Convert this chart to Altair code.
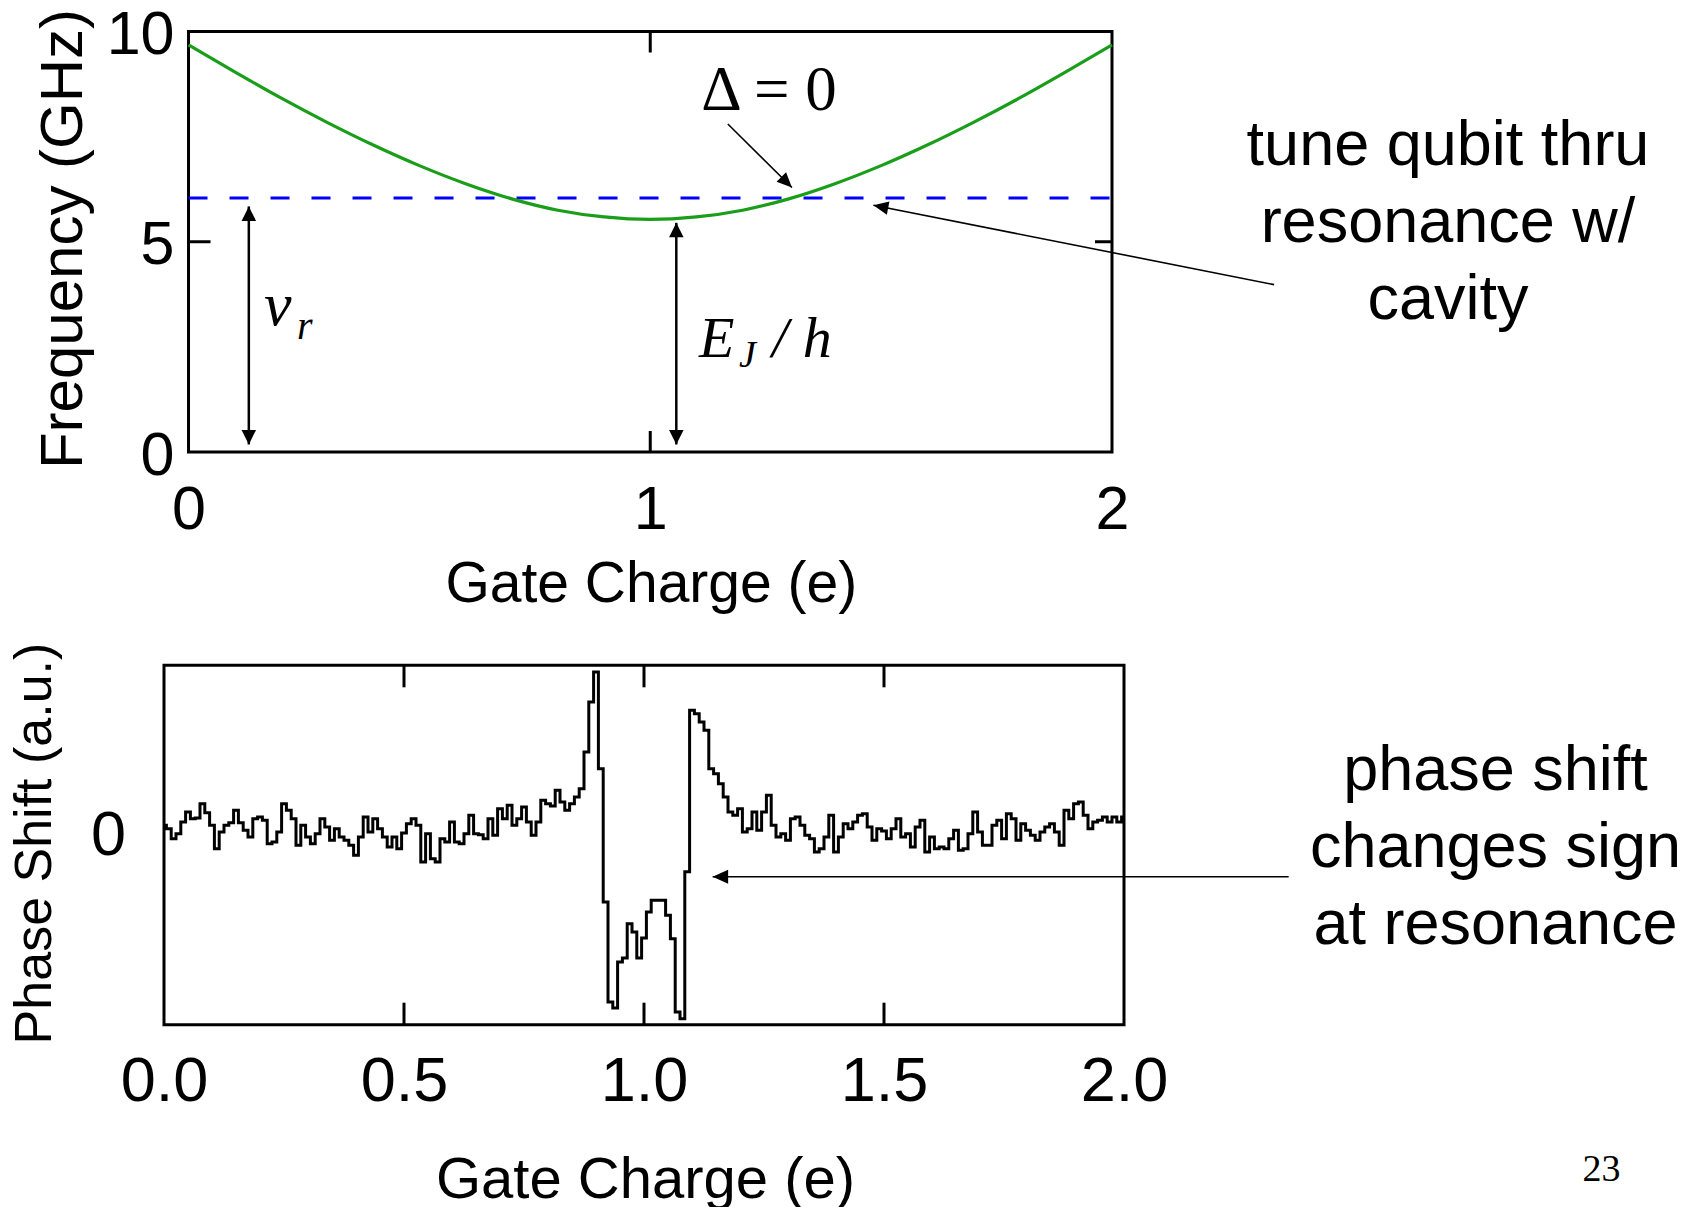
import altair as alt
import pandas as pd

# ---------------- top panel data ----------------
charge_top = [0.0, 0.1, 0.2, 0.3, 0.4, 0.5, 0.6, 0.7, 0.8, 0.9, 1.0,
              1.1, 1.2, 1.3, 1.4, 1.5, 1.6, 1.7, 1.8, 1.9, 2.0]
qubit_ghz = [9.68, 9.04, 8.42, 7.84, 7.30, 6.81, 6.38, 6.02, 5.75, 5.59, 5.53,
             5.59, 5.75, 6.02, 6.38, 6.81, 7.30, 7.84, 8.42, 9.04, 9.68]
cavity_ghz = 6.04
cavity_span = [0.0, 2.0]
top_xticks = [0, 1, 2]
top_yticks = [0, 5, 10]

# ---------------- bottom panel data ----------------
charge_bottom = [round(i * 0.01, 2) for i in range(201)]
phase_au = [
    0.97, 0.63, -0.37, 0.13, 1.30, 2.30, 1.63, 1.70, 3.13, 2.23,
    0.97, -1.37, 0.30, 0.97, 1.23, 2.47, 1.23, 0.47, -0.20, 1.63,
    1.80, 1.47, -0.87, -0.70, 0.30, 3.13, 2.47, 1.63, -1.03, 0.97,
    -0.20, -0.87, 0.13, 1.63, 0.80, -0.53, 0.63, -0.20, -0.53, -1.03,
    -2.03, -0.20, 1.80, 0.30, 1.63, 0.63, -0.20, -1.20, -0.20, -1.37,
    0.20, 1.13, 1.63, 0.97, -2.70, 0.13, -2.37, -2.70, -0.37, -0.70,
    1.30, -0.70, -0.87, 0.13, 1.97, 0.13, 0.03, -0.37, 1.63, -0.03,
    2.63, 1.63, 2.97, 0.97, 1.63, 2.80, 1.30, -0.03, 1.30, 3.47,
    3.13, 2.90, 4.47, 3.30, 2.47, 3.13, 3.80, 4.63, 8.30, 13.30,
    16.30, 6.63, -6.70, -16.70, -17.30, -12.70, -12.30, -8.87, -9.70, -12.30,
    -10.30, -7.70, -6.53, -6.53, -6.53, -8.03, -10.37, -17.70, -18.37, -3.67,
    12.47, 12.13, 11.30, 10.47, 6.63, 6.13, 5.13, 3.80, 2.30, 1.97,
    2.63, 0.30, 0.63, 2.30, 0.47, 2.30, 3.97, 0.97, -0.20, 0.13,
    -0.53, 1.63, 1.80, 0.97, -0.03, -0.37, -1.70, -1.37, -0.20, 1.97,
    -1.70, -0.20, 1.13, 0.63, 1.30, 1.97, 2.13, 0.80, -0.53, 0.63,
    0.40, -0.37, 0.63, 1.63, -0.20, 0.13, -1.20, 0.80, 1.47, -1.70,
    -0.20, -1.37, -1.20, -1.37, -0.37, 0.47, -1.53, -1.37, 0.13, 2.30,
    0.30, -1.03, -1.03, 0.97, 1.47, -0.37, 2.13, 1.63, -0.53, 1.13,
    0.47, -0.03, -0.53, 0.30, 0.80, 1.13, 0.30, -1.03, 2.47, 1.63,
    3.13, 3.30, 1.97, 0.63, 1.30, 1.47, 1.80, 1.30, 1.80, 1.30,
    1.80,
]
bottom_xticks = [0.0, 0.5, 1.0, 1.5, 2.0]
bottom_yticks = [0]

# ---------------- layout (pixels) ----------------
PLOT_W = 960
TOP_H = 420.5
BOT_H = 359.4
GAP = 212.8
TOP_X_DOM = [-0.0531, 2.0260]
TOP_Y_DOM = [0, 10]
BOT_X_DOM = [0, 2]
BOT_Y_DOM = [-18.97, 16.97]
top_ux = PLOT_W / (TOP_X_DOM[1] - TOP_X_DOM[0])
top_uy = TOP_H / (TOP_Y_DOM[1] - TOP_Y_DOM[0])
bot_ux = PLOT_W / (BOT_X_DOM[1] - BOT_X_DOM[0])
bot_uy = BOT_H / (BOT_Y_DOM[1] - BOT_Y_DOM[0])

SANS = "Liberation Sans"
SERIF = "Liberation Serif"
ARROW = "M0,0L-0.5,1L0.5,1Z"
ARROW_THIN = "M0,0L-0.45,1L0.45,1Z"

# ---------------- top panel ----------------
tx = alt.Scale(domain=TOP_X_DOM, nice=False, zero=False)
ty = alt.Scale(domain=TOP_Y_DOM, nice=False, zero=False)

top_xaxis = alt.Axis(values=top_xticks, format=".0f", ticks=False, tickSize=0, domain=False, grid=False,
                     labelFont=SANS, labelFontSize=61, labelColor="black", labelPadding=76,
                     labelBaseline="alphabetic", labelFlush=False, labelOverlap=False,
                     title="Gate Charge (e)", titleFont=SANS, titleFontSize=57, titleFontWeight="normal",
                     titleColor="black", titleX=486.8, titleY=149.5, titleAlign="center",
                     titleBaseline="alphabetic", titleAnchor="start")
top_yaxis = alt.Axis(values=top_yticks, format=".0f", ticks=False, tickSize=0, domain=False, grid=False,
                     offset=-24.5, labelFont=SANS, labelFontSize=61, labelColor="black", labelPadding=14.5,
                     labelBaseline="middle", labelOffset=4, labelFlush=False, labelOverlap=False,
                     title="Frequency (GHz)", titleFont=SANS, titleFontSize=60, titleFontWeight="normal",
                     titleColor="black", titleAngle=270, titleX=-107, titleY=207, titleAlign="center",
                     titleBaseline="alphabetic", titleAnchor="start")


def TX(field="x"):
    return alt.X(f"{field}:Q", scale=tx, axis=top_xaxis)


def TY(field="y"):
    return alt.Y(f"{field}:Q", scale=ty, axis=top_yaxis)


frame_top = alt.Chart(pd.DataFrame({"x": [0.0], "x2": [2.0], "y": [0.0], "y2": [10.0]})).mark_rect(
    fillOpacity=0, stroke="black", strokeWidth=3).encode(x=TX(), x2="x2:Q", y=TY(), y2="y2:Q")

tick_len_x = 21 / top_uy
tick_len_y = 22 / top_ux
tick_len_yr = 17 / top_ux
ticks_top_df = pd.DataFrame({
    "x": [1.0, 1.0, 0.0, 2.0],
    "x2": [1.0, 1.0, tick_len_y, 2.0 - tick_len_yr],
    "y": [10.0, 0.0, 5.0, 5.0],
    "y2": [10.0 - tick_len_x, tick_len_x, 5.0, 5.0],
})
ticks_top = alt.Chart(ticks_top_df).mark_rule(color="black", strokeWidth=3).encode(
    x=TX(), x2="x2:Q", y=TY(), y2="y2:Q")

cavity = alt.Chart(pd.DataFrame({"x": [cavity_span[0]], "x2": [cavity_span[1]],
                                 "y": [cavity_ghz]})).mark_rule(
    color="#0000ff", strokeWidth=3, strokeDash=[19, 22]).encode(x=TX(), x2="x2:Q", y=TY())

qubit = alt.Chart(pd.DataFrame({"x": charge_top, "y": qubit_ghz})).mark_line(
    color="#1a9e1a", strokeWidth=3.2, interpolate="monotone").encode(x=TX(), y=TY())

# arrows (top)
vert_lines = pd.DataFrame({"x": [0.1306, 1.0564], "x2": [0.1306, 1.0564],
                           "y": [0.18, 0.18], "y2": [5.84, 5.45]})
vert_rules = alt.Chart(vert_lines).mark_rule(color="black", strokeWidth=2.5).encode(
    x=TX(), x2="x2:Q", y=TY(), y2="y2:Q")
vert_heads = alt.Chart(pd.DataFrame({
    "x": [0.1306, 0.1306, 1.0564, 1.0564],
    "y": [0.18, 5.84, 0.18, 5.45],
    "ang": [180, 0, 180, 0]})).mark_point(
    shape=ARROW, filled=True, color="black", size=841, opacity=1, strokeWidth=0).encode(
    x=TX(), y=TY(), angle=alt.Angle("ang:Q", scale=None))

thin_lines = pd.DataFrame({"x": [1.168, 2.351], "x2": [1.3068, 1.4833],
                           "y": [7.80, 3.98], "y2": [6.29, 5.87]})
thin_rules = alt.Chart(thin_lines).mark_rule(color="black", strokeWidth=1.6).encode(
    x=TX(), x2="x2:Q", y=TY(), y2="y2:Q")
thin_heads = alt.Chart(pd.DataFrame({"x": [1.3068, 1.4833], "y": [6.29, 5.87],
                                     "ang": [135, 281]})).mark_point(
    shape=ARROW_THIN, filled=True, color="black", size=900, opacity=1, strokeWidth=0).encode(
    x=TX(), y=TY(), angle=alt.Angle("ang:Q", scale=None))


def top_text(df, **kw):
    return alt.Chart(df).mark_text(color="black", **kw).encode(x=TX(), y=TY(), text="t:N")


delta_txt = top_text(pd.DataFrame({"x": [1.257], "y": [8.13], "t": ["\u0394 = 0"]}),
                     font=SERIF, fontSize=63, align="center", baseline="alphabetic")
nu_txt = top_text(pd.DataFrame({"x": [0.1635], "y": [3.01], "t": ["\u03bd"]}),
                  font=SERIF, fontSize=62, fontStyle="italic", align="left", baseline="alphabetic")
r_txt = top_text(pd.DataFrame({"x": [0.235], "y": [2.68], "t": ["r"]}),
                 font=SERIF, fontSize=40, fontStyle="italic", align="left", baseline="alphabetic")
e_txt = top_text(pd.DataFrame({"x": [1.1056], "y": [2.25], "t": ["E"]}),
                 font=SERIF, fontSize=58, fontStyle="italic", align="left", baseline="alphabetic")
j_txt = top_text(pd.DataFrame({"x": [1.1922], "y": [2.01], "t": ["J"]}),
                 font=SERIF, fontSize=38, fontStyle="italic", align="left", baseline="alphabetic")
h_txt = top_text(pd.DataFrame({"x": [1.2637], "y": [2.25], "t": ["/ h"]}),
                 font=SERIF, fontSize=58, fontStyle="italic", align="left", baseline="alphabetic")
tune_txt = top_text(pd.DataFrame({"x": [2.7277], "y": [6.83],
                                  "t": ["tune qubit thru\nresonance w/\ncavity"]}),
                    font=SANS, fontSize=63, align="center", baseline="alphabetic",
                    lineBreak="\n", lineHeight=77)

top = alt.layer(frame_top, ticks_top, cavity, qubit, vert_rules, vert_heads, thin_rules, thin_heads,
                delta_txt, nu_txt, r_txt, e_txt, j_txt, h_txt, tune_txt).properties(
    width=PLOT_W, height=TOP_H)

# ---------------- bottom panel ----------------
bx = alt.Scale(domain=BOT_X_DOM, nice=False, zero=False)
by = alt.Scale(domain=BOT_Y_DOM, nice=False, zero=False)

bot_xaxis = alt.Axis(values=bottom_xticks, format=".1f", ticks=False, tickSize=0, domain=False, grid=False,
                     labelFont=SANS, labelFontSize=63, labelColor="black", labelPadding=75.3,
                     labelBaseline="alphabetic", labelFlush=False, labelOverlap=False,
                     title="Gate Charge (e)", titleFont=SANS, titleFontSize=58, titleFontWeight="normal",
                     titleColor="black", titleX=481, titleY=172.3, titleAlign="center",
                     titleBaseline="alphabetic", titleAnchor="start")
bot_yaxis = alt.Axis(values=bottom_yticks, format=".0f", ticks=False, tickSize=0, domain=False, grid=False,
                     labelFont=SANS, labelFontSize=63, labelColor="black", labelPadding=38.5,
                     labelBaseline="middle", labelFlush=False, labelOverlap=False,
                     title="Phase Shift (a.u.)", titleFont=SANS, titleFontSize=52, titleFontWeight="normal",
                     titleColor="black", titleAngle=270, titleX=-114, titleY=177.7, titleAlign="center",
                     titleBaseline="alphabetic", titleAnchor="start")


def BX(field="x"):
    return alt.X(f"{field}:Q", scale=bx, axis=bot_xaxis)


def BY(field="y"):
    return alt.Y(f"{field}:Q", scale=by, axis=bot_yaxis)


frame_bot = alt.Chart(pd.DataFrame({"x": [0.0], "x2": [2.0], "y": [BOT_Y_DOM[0]],
                                    "y2": [BOT_Y_DOM[1]]})).mark_rect(
    fillOpacity=0, stroke="black", strokeWidth=3).encode(x=BX(), x2="x2:Q", y=BY(), y2="y2:Q")

tl = 22 / bot_uy
tick_pos = [0.5, 1.0, 1.5]
ticks_bot_df = pd.DataFrame({
    "x": tick_pos + tick_pos,
    "y": [BOT_Y_DOM[1]] * 3 + [BOT_Y_DOM[0]] * 3,
    "y2": [BOT_Y_DOM[1] - tl] * 3 + [BOT_Y_DOM[0] + tl] * 3,
})
ticks_bot = alt.Chart(ticks_bot_df).mark_rule(color="black", strokeWidth=3).encode(
    x=BX(), y=BY(), y2="y2:Q")

trace = alt.Chart(pd.DataFrame({"x": charge_bottom, "y": phase_au})).mark_line(
    color="black", strokeWidth=3, interpolate="step").encode(x=BX(), y=BY())

bot_arrow = alt.Chart(pd.DataFrame({"x": [2.343], "x2": [1.143], "y": [-4.18]})).mark_rule(
    color="black", strokeWidth=1.6).encode(x=BX(), x2="x2:Q", y=BY())
bot_head = alt.Chart(pd.DataFrame({"x": [1.143], "y": [-4.18], "ang": [270]})).mark_point(
    shape=ARROW_THIN, filled=True, color="black", size=961, opacity=1, strokeWidth=0).encode(
    x=BX(), y=BY(), angle=alt.Angle("ang:Q", scale=None))

phase_txt = alt.Chart(pd.DataFrame({"x": [2.774], "y": [4.54],
                                    "t": ["phase shift\nchanges sign\nat resonance"]})).mark_text(
    color="black", font=SANS, fontSize=63, align="center", baseline="alphabetic",
    lineBreak="\n", lineHeight=77).encode(x=BX(), y=BY(), text="t:N")

page_txt = alt.Chart(pd.DataFrame({"x": [2.995], "y": [-34.6], "t": ["23"]})).mark_text(
    color="black", font=SERIF, fontSize=38, align="center", baseline="alphabetic").encode(
    x=BX(), y=BY(), text="t:N")

bottom = alt.layer(frame_bot, ticks_bot, trace, bot_arrow, bot_head, phase_txt, page_txt).properties(
    width=PLOT_W, height=BOT_H)

chart = alt.vconcat(top, bottom, spacing=GAP, bounds="flush").properties(
    padding={"left": 7, "top": 4.5, "right": 0, "bottom": 0}
).configure(background="white").configure_view(stroke=None)

chart.save("out.html", embed_options={"renderer": "svg", "actions": False})
